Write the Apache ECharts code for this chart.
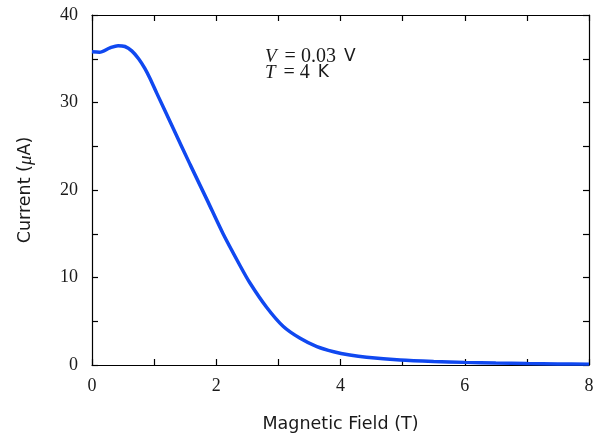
<!DOCTYPE html>
<html>
<head>
<meta charset="utf-8">
<script src="https://cdn.jsdelivr.net/npm/echarts@6/dist/echarts.min.js"></script>
<style>
  html, body { margin: 0; padding: 0; background: #fff; }
  #chart { width: 605px; height: 438px; }
</style>
</head>
<body>
<div id="chart"></div>
<script>
// Magnetic field sweep (T) and measured current (µA)
var field = [0, 0.12, 0.29, 0.42, 0.53, 0.64, 0.75, 0.85, 0.93, 1.04, 1.31, 1.58, 1.85, 2.11, 2.38, 2.54, 2.81, 3.08, 3.35, 3.62, 3.89, 4.15, 4.42, 4.96, 5.5, 6.0, 6.5, 7.0, 7.5, 8.0];
var current = [35.8, 35.75, 36.25, 36.5, 36.4, 35.9, 35.0, 33.9, 32.8, 31.1, 27.0, 22.9, 18.9, 15.0, 11.4, 9.4, 6.6, 4.4, 3.05, 2.1, 1.52, 1.14, 0.88, 0.57, 0.4, 0.3, 0.22, 0.16, 0.12, 0.1];

var xTickLabels = ['0', '2', '4', '6', '8'];
var yTickLabels = ['0', '10', '20', '30', '40'];

var points = field.map(function (b, i) { return [b, current[i]]; });

var serif = 'Liberation Serif';
var sans = 'DejaVu Sans';

function axisBase(extra) {
  var a = {
    axisLine: { show: true, onZero: false, lineStyle: { color: '#000', width: 1.2 } },
    axisTick: { show: true, inside: true, length: 6, lineStyle: { color: '#000', width: 1.2 } },
    splitLine: { show: false },
    minorTick: { show: false }
  };
  for (var k in extra) a[k] = extra[k];
  return a;
}

// Condition annotation, one line each
var noteRich = {
  it: { fontFamily: serif, fontStyle: 'italic', fontSize: 19 },
  eq: { fontFamily: serif, fontSize: 20, padding: [0, 5, 0, 8] },
  n: { fontFamily: serif, fontSize: 20 },
  s: { fontFamily: sans, fontSize: 17, padding: [0, 0, 0, 8] }
};
function noteLine(text, y) {
  return {
    type: 'text', x: 265, y: y,
    style: { text: text, fill: '#1a1a1a', verticalAlign: 'middle', rich: noteRich }
  };
}

var chart = echarts.init(document.getElementById('chart'));
chart.setOption({
  animation: false,
  backgroundColor: '#fff',
  grid: { left: 92, right: 16, top: 15, bottom: 73 },
  xAxis: [
    axisBase({
      type: 'value', min: 0, max: 8, interval: 1, position: 'bottom',
      name: 'Magnetic Field (T)', nameLocation: 'middle', nameGap: 50,
      nameTextStyle: { fontFamily: sans, fontSize: 17.5, color: '#1a1a1a' },
      axisLabel: {
        fontFamily: serif, fontSize: 18, color: '#1a1a1a', margin: 12,
        formatter: function (v) { return xTickLabels.indexOf(String(v)) >= 0 ? String(v) : ''; }
      }
    }),
    axisBase({
      type: 'value', min: 0, max: 8, interval: 1, position: 'top',
      axisLabel: { show: false }
    })
  ],
  yAxis: [
    axisBase({
      type: 'value', min: 0, max: 40, interval: 5, position: 'left',
      name: 'Current ({mu|μ}A)', nameLocation: 'middle', nameGap: 57,
      nameTextStyle: {
        fontFamily: sans, fontSize: 17.5, color: '#1a1a1a',
        rich: { mu: { fontFamily: serif, fontStyle: 'italic', fontSize: 19, color: '#1a1a1a' } }
      },
      axisLabel: {
        fontFamily: serif, fontSize: 18, color: '#1a1a1a', margin: 14,
        formatter: function (v) { return yTickLabels.indexOf(String(v)) >= 0 ? String(v) : ''; }
      }
    }),
    axisBase({
      type: 'value', min: 0, max: 40, interval: 5, position: 'right',
      axisLabel: { show: false }
    })
  ],
  series: [{
    type: 'line',
    data: points,
    smooth: 0.3,
    showSymbol: false,
    lineStyle: { color: '#1048f0', width: 3.5 },
    clip: true
  }],
  graphic: [
    noteLine('{it|V}{eq|=}{n|0.03}{s|V}', 56.5),
    noteLine('{it|T}{eq|=}{n|4}{s|K}', 73)
  ]
});
</script>
</body>
</html>
